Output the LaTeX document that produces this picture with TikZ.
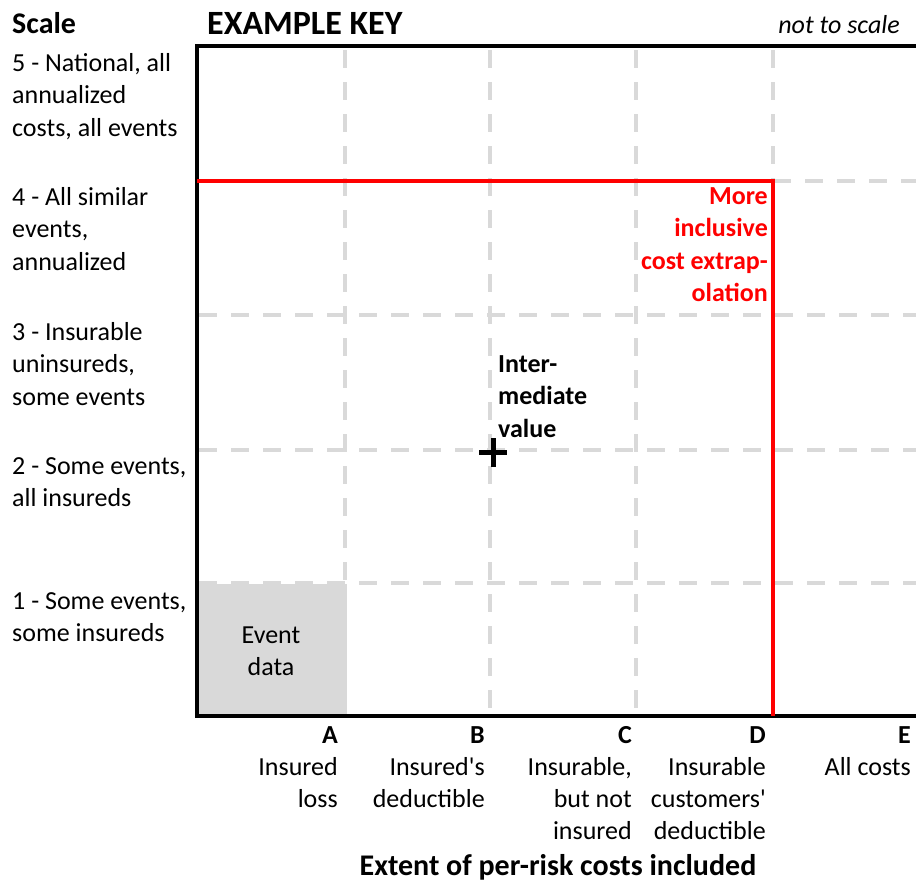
\documentclass[tikz,border=0pt]{standalone}
\usepackage{fontspec}
\setmainfont{Carlito}
\definecolor{gridgray}{HTML}{D9D9D9}
\definecolor{keyred}{HTML}{FF0000}
\begin{document}
\begin{tikzpicture}[x=1pt,y=-1pt,
  gridline/.style={draw=gridgray, line width=4pt, dash pattern=on 18pt off 14pt},
  framel/.style={draw=black, line width=4.5pt, line join=miter},
  redl/.style={draw=keyred, line width=4pt, line join=miter},
  body/.style={font=\fontsize{26}{32.5}\selectfont, inner sep=0pt},
  lbl/.style={body, align=left, anchor=base west},
  collbl/.style={font=\fontsize{26}{32}\selectfont, inner sep=0pt, align=right, anchor=base east},
  boldlbl/.style={font=\bfseries\fontsize{26}{32.5}\selectfont, inner sep=0pt}
]
\useasboundingbox (0,0) rectangle (916,881);
% grid
\foreach \gx in {345,490,636} \draw[gridline] (\gx,50) -- (\gx,712);
\draw[gridline] (773,50) -- (773,181);
\draw[gridline] (773,181) -- (916,181);
\foreach \gy in {315,450,583} \draw[gridline] (199,\gy) -- (916,\gy);
% event data area
\fill[gridgray] (197,584) rectangle (347,716);
% frame
\coordinate (tr) at (916,46);
\coordinate (tl) at (197,46);
\coordinate (bl) at (197,716);
\coordinate (br) at (916,716);
\draw[framel] (tr) -- (tl) -- (bl) -- (br);
% red extrapolation boundary
\coordinate (r1) at (197,181);
\coordinate (r2) at (773,181);
\coordinate (r3) at (773,716);
\draw[redl] (r1) -- (r2) -- (r3);
% header
\node[font=\bfseries\fontsize{30}{32}\selectfont, inner sep=0pt, anchor=base west] (scale) at (12,33) {Scale};
\node[font=\bfseries\fontsize{34}{36}\selectfont, inner sep=0pt, anchor=base west] (key) at (207,34) {EXAMPLE KEY};
\node[font=\itshape\fontsize{26}{32}\selectfont, inner sep=0pt, anchor=base east] (nts) at (900,33) {not to scale};
% scale labels (anchor = baseline of last line)
\node[lbl] (s5) at (12,136) {5 - National, all\\annualized\\costs, all events};
\node[lbl] (s4) at (12,270) {4 - All similar\\events,\\annualized};
\node[lbl] (s3) at (12,405) {3 - Insurable\\uninsureds,\\some events};
\node[lbl] (s2) at (12,506.5) {2 - Some events,\\all insureds};
\node[lbl] (s1) at (12,641.5) {1 - Some events,\\some insureds};
% inside labels
\node[body, align=center, anchor=base] (ev) at (271,675.5) {Event\\data};
\node[boldlbl, align=left, anchor=base west] (im) at (498,437) {Inter-\\mediate\\value};
\node[boldlbl, text=keyred, align=right, anchor=base east] (mi) at (768,301.5) {More\\inclusive\\cost extrap-\\olation};
% plus marker
\coordinate (plus) at (493,452);
\draw[line width=5pt] (479,452) -- (507,452);
\draw[line width=5pt] (493,438) -- (493,467);
% column labels
\node[collbl] (ca) at (338,807) {\textbf{A}\\Insured\\loss};
\node[collbl] (cb) at (485,807) {\textbf{B}\\Insured\textquotesingle s\\deductible};
\node[collbl] (cc) at (632,839) {\textbf{C}\\Insurable,\\but not\\insured};
\node[collbl] (cd) at (766,839) {\textbf{D}\\Insurable\\customers\textquotesingle\\deductible};
\node[collbl] (ce) at (911,775) {\textbf{E}\\All costs};
\node[font=\bfseries\fontsize{30}{34}\selectfont, inner sep=0pt, anchor=base] (xt) at (558,875) {Extent of per-risk costs included};
\end{tikzpicture}
\end{document}
